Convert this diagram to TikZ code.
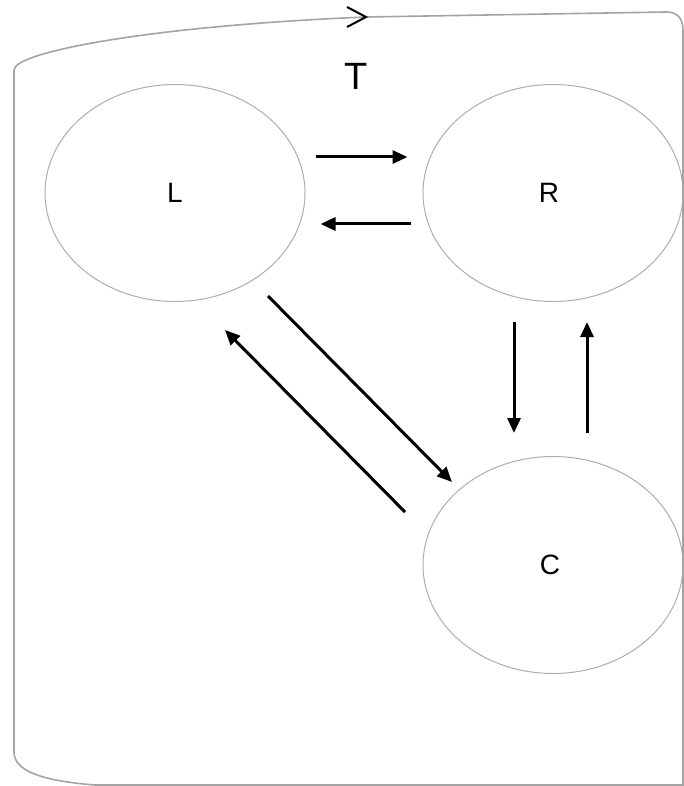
\documentclass[tikz,border=0pt]{standalone}
\usepackage{fontspec}
\setmainfont{Liberation Sans}
\usetikzlibrary{shapes.geometric,arrows.meta}
\begin{document}
\begin{tikzpicture}[x=1pt,y=-1pt,
  state/.style={ellipse,draw=black!32,line width=1pt,minimum width=260pt,minimum height=217pt,font=\fontsize{28}{28}\selectfont,inner sep=0pt},
  flow/.style={line width=3pt,-{Triangle[length=15pt,width=13pt]}},
  frame/.style={draw=black!36,line width=1.6pt}]
\useasboundingbox (0,0) rectangle (684,786);
\node[state] (L) at (175,193) {L};
\node[state] (R) at (553,193) {\hspace*{-8pt}R};
\node[state] (C) at (553,565) {\hspace*{-6pt}C};
\node[font=\fontsize{38}{38}\selectfont] (T) at (356,76) {T};
% frame
\coordinate (tip) at (366,17);
\draw[frame] (684,785) -- (95,785) .. controls (45,781) and (14,772) .. (14,752) -- (14,70)
  .. controls (14,52) and (150,26) .. (tip) -- (666,12) .. controls (676,12) and (683,17) .. (683,30) -- (683,786);
\draw[line width=2pt,black] (347,7) -- (tip) -- (347,27);
% horizontal
\draw[flow,shorten <=10pt,shorten >=15pt] ([yshift=36pt]L.east) -- ([yshift=36pt]R.west);
\draw[flow,shorten <=12pt,shorten >=15pt] ([yshift=-31pt]R.west) -- ([yshift=-31pt]L.east);
% vertical
\draw[flow,shorten <=20pt,shorten >=23pt] ([xshift=-39pt]R.south) -- ([xshift=-39pt]C.north);
\draw[flow,shorten <=23pt,shorten >=20pt] ([xshift=34pt]C.north) -- ([xshift=34pt]R.south);
% diagonals
\coordinate (d1) at (268,296);
\coordinate (d2) at (452,482);
\coordinate (d3) at (405,512);
\coordinate (d4) at (225,330);
\draw[flow] (d1) -- (d2);
\draw[flow] (d3) -- (d4);
\end{tikzpicture}
\end{document}
